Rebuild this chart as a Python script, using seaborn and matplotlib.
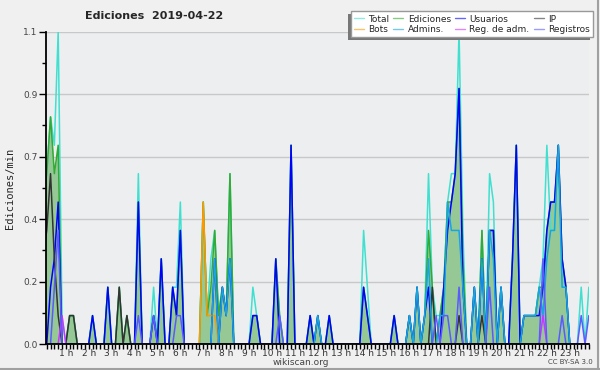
import numpy as np
import matplotlib
matplotlib.use("Agg")
from matplotlib import pyplot as plt
from matplotlib.lines import Line2D
from matplotlib.patches import Rectangle
from matplotlib.transforms import IdentityTransform
from matplotlib.ticker import FixedLocator, MultipleLocator, FormatStrFormatter
import seaborn as sns

# ediciones/min por intervalo de 10 min, una fila por hora (0 h ... 23 h)
total = [
    0.5, 0.6, 0.8, 0.7, 1.1, 0.1,
    0, 0.1, 0.1, 0, 0, 0,
    0, 0.1, 0, 0, 0, 0.2,
    0, 0, 0.2, 0, 0.1, 0,
    0, 0.6, 0, 0, 0, 0.2,
    0, 0.3, 0, 0, 0.2, 0.2,
    0.5, 0, 0, 0, 0, 0,
    0.5, 0.1, 0.3, 0.4, 0.1, 0.2,
    0.1, 0.6, 0, 0, 0, 0,
    0, 0.2, 0.1, 0, 0, 0,
    0, 0.3, 0.1, 0, 0, 0.7,
    0, 0, 0, 0, 0.1, 0,
    0.1, 0, 0, 0.1, 0, 0,
    0, 0, 0, 0, 0, 0,
    0.4, 0.2, 0, 0, 0, 0,
    0, 0, 0.1, 0, 0, 0,
    0.1, 0, 0.2, 0, 0.1, 0.6,
    0.2, 0.1, 0.1, 0.2, 0.5, 0.6,
    0.6, 1.1, 0.4, 0, 0, 0.2,
    0, 0.4, 0, 0.6, 0.5, 0,
    0.2, 0, 0, 0.3, 0.7, 0,
    0.1, 0.1, 0.1, 0.1, 0.2, 0.3,
    0.7, 0.4, 0.4, 0.7, 0.2, 0.2,
    0, 0, 0, 0.2, 0, 0.2,
]
ediciones = [
    0.5, 0.6, 0.8, 0.6, 0.7, 0,
    0, 0.1, 0.1, 0, 0, 0,
    0, 0.1, 0, 0, 0, 0.2,
    0, 0, 0.2, 0, 0.1, 0,
    0, 0.5, 0, 0, 0, 0.1,
    0, 0.3, 0, 0, 0.2, 0.1,
    0.4, 0, 0, 0, 0, 0,
    0.5, 0.1, 0.2, 0.4, 0.1, 0.2,
    0.1, 0.6, 0, 0, 0, 0,
    0, 0.1, 0.1, 0, 0, 0,
    0, 0.3, 0.1, 0, 0, 0.7,
    0, 0, 0, 0, 0.1, 0,
    0.1, 0, 0, 0.1, 0, 0,
    0, 0, 0, 0, 0, 0,
    0.2, 0.1, 0, 0, 0, 0,
    0, 0, 0.1, 0, 0, 0,
    0.1, 0, 0.2, 0, 0.1, 0.4,
    0.2, 0, 0.1, 0.2, 0.5, 0.5,
    0.6, 0.9, 0.3, 0, 0, 0.2,
    0, 0.4, 0, 0.4, 0.4, 0,
    0.2, 0, 0, 0.3, 0.7, 0,
    0.1, 0.1, 0.1, 0.1, 0.2, 0.2,
    0.4, 0.5, 0.5, 0.7, 0.3, 0.2,
    0, 0, 0, 0, 0, 0,
]
usuarios = [
    0, 0, 0.2, 0.3, 0.5, 0,
    0, 0, 0, 0, 0, 0,
    0, 0.1, 0, 0, 0, 0.2,
    0, 0, 0, 0, 0, 0,
    0, 0.5, 0, 0, 0, 0.1,
    0, 0.3, 0, 0, 0.2, 0.1,
    0.4, 0, 0, 0, 0, 0,
    0, 0, 0, 0.3, 0, 0.2,
    0.1, 0.3, 0, 0, 0, 0,
    0, 0.1, 0.1, 0, 0, 0,
    0, 0.3, 0, 0, 0, 0.7,
    0, 0, 0, 0, 0.1, 0,
    0.1, 0, 0, 0.1, 0, 0,
    0, 0, 0, 0, 0, 0,
    0.2, 0.1, 0, 0, 0, 0,
    0, 0, 0.1, 0, 0, 0,
    0.1, 0, 0.2, 0, 0.1, 0.2,
    0, 0, 0, 0.2, 0.4, 0.5,
    0.6, 0.9, 0.2, 0, 0, 0.2,
    0, 0.3, 0, 0.4, 0.4, 0,
    0.2, 0, 0, 0.3, 0.7, 0,
    0.1, 0.1, 0.1, 0.1, 0.1, 0.2,
    0.4, 0.5, 0.5, 0.7, 0.3, 0.2,
    0, 0, 0, 0, 0, 0,
]
ip = [0.0] * 144
ip[0:5] = [0.3, 0.4, 0.6, 0.3, 0.1]
ip[7:9] = [0.1, 0.1]
ip[20], ip[22] = 0.2, 0.1
ip[102], ip[109], ip[115] = 0.2, 0.1, 0.1
bots = [0.0] * 144
bots[42:46] = [0.5, 0.1, 0.1, 0.1]
admins = [0.0] * 144
admins[45:50] = [0.3, 0, 0.2, 0.1, 0.3]
admins[72] = 0.1
admins[96:102] = [0.1, 0, 0.2, 0, 0.1, 0.3]
admins[104:111] = [0.1, 0.1, 0.5, 0.4, 0.4, 0.4, 0.2]
admins[113:121] = [0.2, 0, 0.3, 0, 0.4, 0.3, 0, 0.2]
admins[126:138] = [0.1, 0.1, 0.1, 0.1, 0.2, 0.1, 0.3, 0.4, 0.4, 0.7, 0.2, 0.2]
reg_adm = [0.0] * 144
reg_adm[5], reg_adm[131] = 0.1, 0.1
registros = [0.0] * 144
registros[3:5] = [0.2, 0.4]
registros[25], registros[29], registros[35], registros[36] = 0.1, 0.1, 0.1, 0.1
registros[62] = 0.1
registros[103], registros[105], registros[106], registros[109] = 0.1, 0.1, 0.1, 0.2
registros[117], registros[131], registros[136] = 0.2, 0.3, 0.1
registros[141], registros[143] = 0.1, 0.1

hour_labels = [f"{h} h" for h in range(1, 24)]

sns.set_theme(style="ticks")
plt.rcParams["font.family"] = ["DejaVu Sans"]

hours = np.arange(144) / 6

fig = plt.figure(figsize=(6, 3.7), dpi=100, facecolor="#f0f0f0")
ax = fig.add_axes([46 / 600, 26 / 370, 543 / 600, 312.3 / 370])
ax.set_facecolor("#eceef0")

ax.fill_between(hours, ediciones, color="#96c896", lw=0, zorder=1)

series = [
    ("Total", total, "#40e0d0"),
    ("Ediciones", ediciones, "#33aa33"),
    ("Usuarios", usuarios, "#0000ff"),
    ("IP", ip, "#333333"),
    ("Bots", bots, "#ff9900"),
    ("Admins.", admins, "#18a6dc"),
    ("Reg. de adm.", reg_adm, "#cc33ff"),
    ("Registros", registros, "#5a5aff"),
]
for k, (name, vals, col) in enumerate(series):
    sns.lineplot(x=hours, y=vals, color=col, lw=1.1, ax=ax, zorder=2 + k,
                 legend=False)

ax.set_xlim(0.135, 23.84)
ax.set_ylim(0, 1.1)
ax.set_xlabel("")
ax.set_ylabel("")

ax.xaxis.set_major_locator(FixedLocator(list(range(1, 24))))
ax.set_xticklabels(hour_labels)
ax.xaxis.set_minor_locator(MultipleLocator(1 / 6))
ax.yaxis.set_major_locator(FixedLocator(np.linspace(0, 1.1, 6)))
ax.yaxis.set_major_formatter(FormatStrFormatter("%.1f"))
ax.yaxis.set_minor_locator(MultipleLocator(0.11))

ax.tick_params(axis="x", which="both", length=3.5, width=1, color="black",
               labelsize=6.5, labelcolor="#333333", pad=0)
ax.tick_params(axis="y", which="major", length=5, width=1, color="black",
               labelsize=6.5, labelcolor="#444444", pad=1)
ax.tick_params(axis="y", which="minor", length=3, width=1, color="black")

ax.yaxis.grid(True, color="#c8c8c8", lw=1)
ax.set_axisbelow(True)
for s in ["top", "right"]:
    ax.spines[s].set_visible(False)
for s in ["left", "bottom"]:
    ax.spines[s].set_color("black")
    ax.spines[s].set_linewidth(1.3)
    ax.spines[s].set_zorder(20)

# leyenda: matplotlib llena por columnas, se reordena para leer por filas
order = [0, 4, 1, 5, 2, 6, 3, 7]
handles = [Line2D([], [], color=series[i][2], lw=1, alpha=0.6) for i in order]
labels = [series[i][0] for i in order]
leg = fig.legend(handles, labels, ncol=4, loc="upper right",
                 bbox_to_anchor=(593 / 600, 1 - 11.5 / 370), fontsize=6.5,
                 frameon=True, fancybox=False, edgecolor="#999999",
                 facecolor="white", framealpha=1, borderpad=0.35,
                 labelspacing=0.15, handlelength=1.1, handletextpad=0.5,
                 columnspacing=0.45, borderaxespad=0)
leg.set_zorder(10)

# sombra gris hacia abajo y a la izquierda
fig.canvas.draw()
bb = leg.get_window_extent()
fig.add_artist(Rectangle((bb.x0 - 3, bb.y0 - 3), bb.width, bb.height,
                         transform=IdentityTransform(), facecolor="#777777",
                         edgecolor="none", zorder=9))

fig.text(154 / 600, 1 - 16 / 370, "Ediciones  2019-04-22", ha="center",
         va="center", fontsize=8, fontweight="bold")
fig.text(10 / 600, 1 - 188 / 370, "Ediciones/min", rotation=90,
         family="DejaVu Sans Mono", fontsize=7.5, ha="center", va="center")
fig.text(301 / 600, 1 - 362.5 / 370, "wikiscan.org", fontsize=6.5,
         color="#444444", ha="center", va="center")
fig.text(570 / 600, 1 - 362.5 / 370, "CC BY-SA 3.0", fontsize=5,
         color="#444444", ha="center", va="center")

fig.add_artist(Line2D([0.997, 0.997], [0, 1], transform=fig.transFigure,
                      color="#a0a0a0", lw=1.5))
fig.add_artist(Line2D([0, 1], [0.004, 0.004], transform=fig.transFigure,
                      color="#a0a0a0", lw=1.5))

fig.savefig("out.png", dpi=100, facecolor=fig.get_facecolor())
